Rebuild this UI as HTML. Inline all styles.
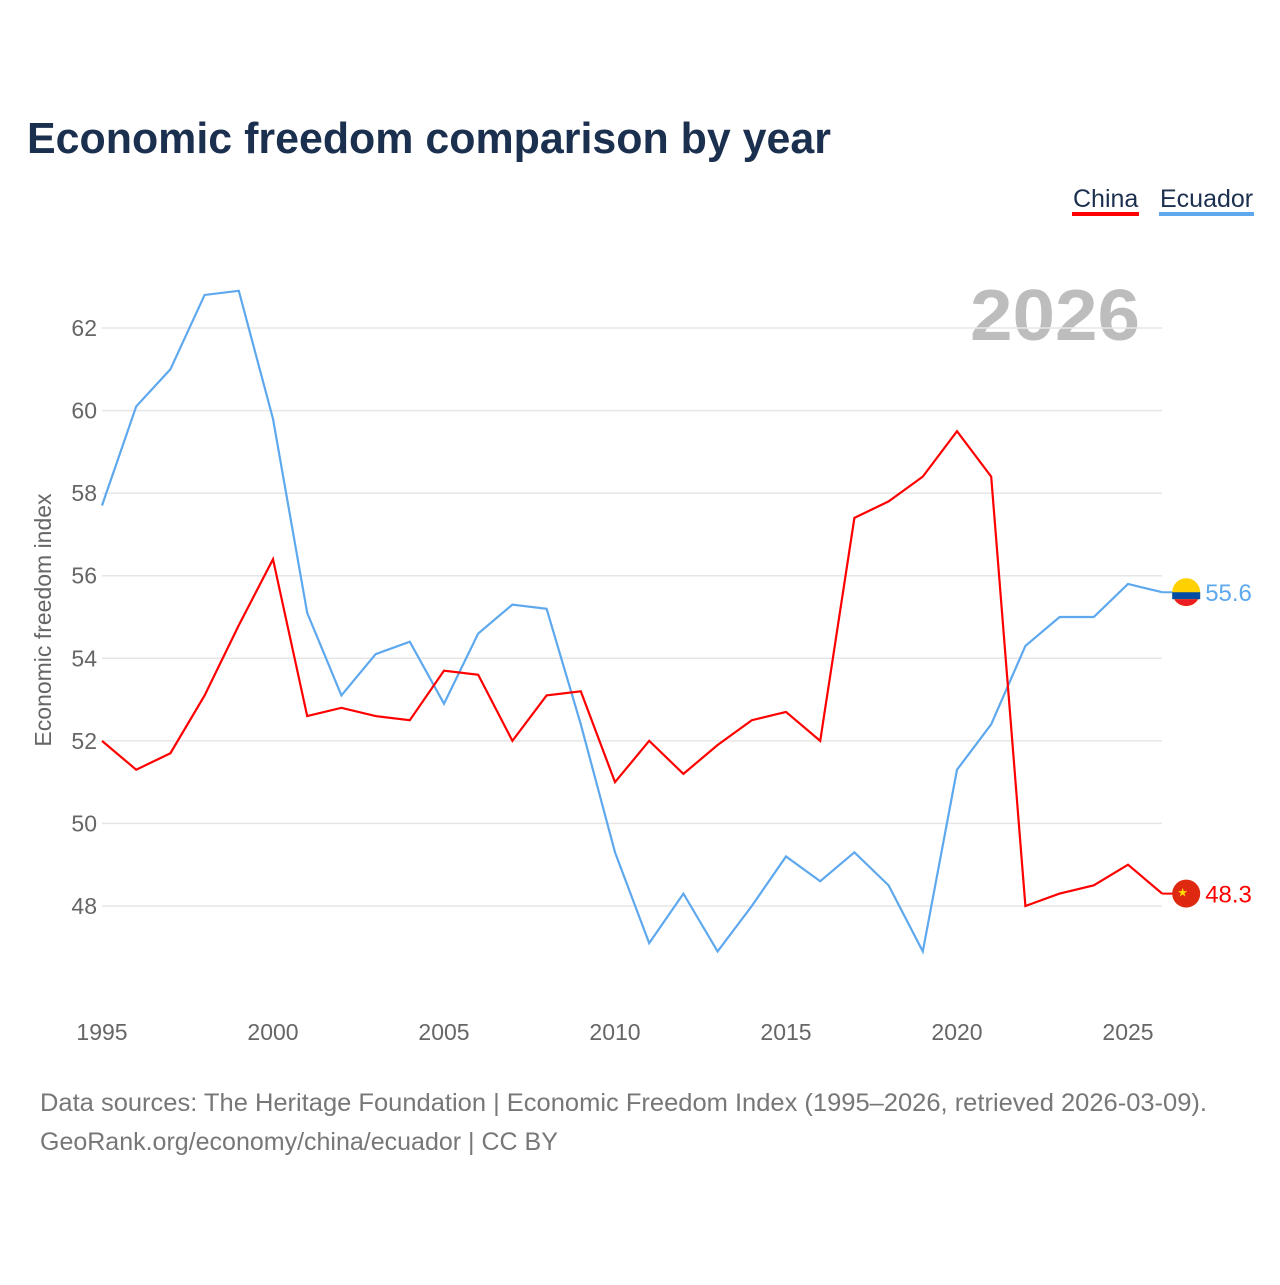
<!DOCTYPE html>
<html><head><meta charset="utf-8"><style>
body{margin:0;background:#fff;font-family:"Liberation Sans",sans-serif;}
svg text{font-family:"Liberation Sans",sans-serif;}
</style></head><body>
<svg width="1280" height="1280" xmlns="http://www.w3.org/2000/svg" id="chart">
<text x="27" y="153" font-size="44" font-weight="bold" fill="#1b2f4e" textLength="804" lengthAdjust="spacingAndGlyphs">Economic freedom comparison by year</text>
<g>
<g><text x="1073" y="207" font-size="25" fill="#1b2f4e">China</text><rect x="1072" y="212" width="67" height="4" fill="#ff0000"/></g>
<g><text x="1160" y="207" font-size="25" fill="#1b2f4e">Ecuador</text><rect x="1159" y="212" width="95" height="4" fill="#5ea8ee"/></g>
</g>
<text x="1140" y="340" font-size="72" font-weight="bold" fill="#bdbdbd" text-anchor="end" textLength="170" lengthAdjust="spacingAndGlyphs">2026</text>
<g id="grid"></g>
<g id="yticks"></g>
<g id="xticks"></g>
<text transform="translate(51,620) rotate(-90)" font-size="23" fill="#666" text-anchor="middle">Economic freedom index</text>
<g id="series"></g>
<text x="40" y="1111" font-size="25" fill="#777" textLength="1167" lengthAdjust="spacingAndGlyphs">Data sources: The Heritage Foundation | Economic Freedom Index (1995–2026, retrieved 2026-03-09).</text>
<text x="40" y="1150" font-size="25" fill="#777">GeoRank.org/economy/china/ecuador | CC BY</text>
</svg>
<script>
const years=[1995,1996,1997,1998,1999,2000,2001,2002,2003,2004,2005,2006,2007,2008,2009,2010,2011,2012,2013,2014,2015,2016,2017,2018,2019,2020,2021,2022,2023,2024,2025,2026];
const ecuador=[57.7,60.1,61.0,62.8,62.9,59.8,55.1,53.1,54.1,54.4,52.9,54.6,55.3,55.2,52.4,49.3,47.1,48.3,46.9,48.0,49.2,48.6,49.3,48.5,46.9,51.3,52.4,54.3,55.0,55.0,55.8,55.6];
const china=[52.0,51.3,51.7,53.1,54.8,56.4,52.6,52.8,52.6,52.5,53.7,53.6,52.0,53.1,53.2,51.0,52.0,51.2,51.9,52.5,52.7,52.0,57.4,57.8,58.4,59.5,58.4,48.0,48.3,48.5,49.0,48.3];
const yTicks=[48,50,52,54,56,58,60,62];
const xTicks=[1995,2000,2005,2010,2015,2020,2025];
const NS="http://www.w3.org/2000/svg";
const X=y=>102+(y-1995)*34.2;
const Y=v=>906-(v-48)*41.286;
function mk(t,a,p){const e=document.createElementNS(NS,t);for(const k in a)e.setAttribute(k,a[k]);p.appendChild(e);return e;}
const grid=document.getElementById('grid'),yt=document.getElementById('yticks'),xt=document.getElementById('xticks'),ser=document.getElementById('series');
yTicks.forEach(v=>{
 const l=mk('line',{x1:102,x2:1162,y1:Y(v),y2:Y(v),stroke:'#e6e6e6','stroke-width':1.5},grid);
 
 
 const t=mk('text',{x:97,y:Y(v)+8,'font-size':23,fill:'#666','text-anchor':'end'},yt);t.textContent=v;
 
 
});
xTicks.forEach(v=>{
 const t=mk('text',{x:X(v),y:1040,'font-size':23,fill:'#666','text-anchor':'middle'},xt);t.textContent=v;
 
 
});
function line(d,c,name){
 const p=mk('polyline',{points:d.map((v,i)=>X(years[i])+','+Y(v)).join(' '),fill:'none',stroke:c,'stroke-width':2.2},ser);
 
 
 const last=d[d.length-1],lx=X(years[years.length-1])+24,ly=Y(last);
 mk('line',{x1:X(years[years.length-1]),x2:lx,y1:ly,y2:ly,stroke:c,'stroke-width':2},ser);
 const m=mk('circle',{cx:lx,cy:ly,r:14,fill:name==='china'?'#de2910':'#ffd100'},ser);
 
 
 if(name==='ecuador'){mk('rect',{x:lx-14,y:ly,width:28,height:7,fill:'#034ea2'},ser);mk('path',{d:`M${lx-12} ${ly+7}h24a14 14 0 0 1-24 0z`,fill:'#ed1c24'},ser);}
 else mk('text',{x:lx-9,y:ly+3,'font-size':12,fill:'#ffde00'},ser).textContent='★';
 const t=mk('text',{x:lx+19,y:ly+9,'font-size':24,fill:c},ser);t.textContent=last.toFixed(1);
 
 
}
line(ecuador,'#5ea8ee','ecuador');
line(china,'#ff0000','china');
</script>
</body></html>
